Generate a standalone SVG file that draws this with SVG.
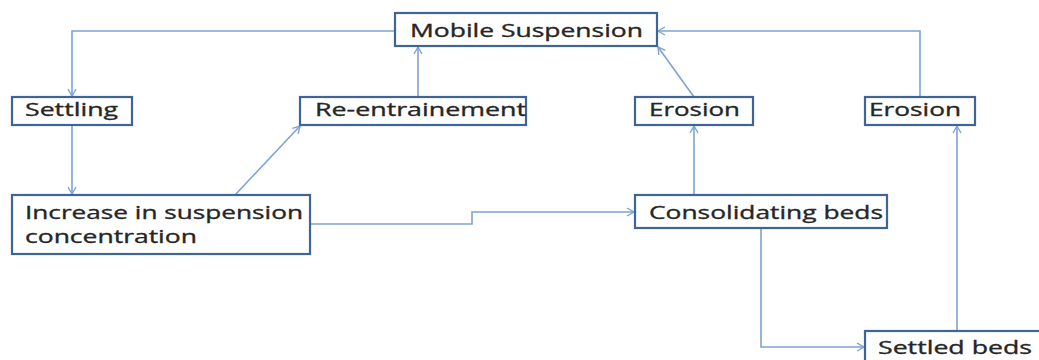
<svg xmlns="http://www.w3.org/2000/svg" width="1039" height="360" viewBox="0 0 1039 360">
<defs>
<marker id="arr" markerWidth="10" markerHeight="10" refX="9" refY="5" orient="auto" markerUnits="userSpaceOnUse">
<polyline points="2,1 9,5 2,9" fill="none" stroke="#7ea3d4" stroke-width="1.4"/>
</marker>
</defs>
<style>
.box{fill:#ffffff;stroke:#3f6597;stroke-width:2.2}
.lbl{font-family:"Open Sans","Liberation Sans",sans-serif;font-size:19px;fill:#262626;stroke:#262626;stroke-width:0.35}
.c{fill:none;stroke:#7ea3d4;stroke-width:1.6;marker-end:url(#arr)}
</style>
<rect width="1039" height="360" fill="#ffffff"/>
<g id="connectors">
<polyline class="c" points="395,31 72,31 72,96"/>
<line class="c" x1="72" y1="125" x2="72" y2="194"/>
<line class="c" x1="235" y1="195" x2="300" y2="126"/>
<line class="c" x1="418" y1="97" x2="418" y2="47"/>
<line class="c" x1="694" y1="97" x2="658" y2="47"/>
<polyline class="c" points="920,97 920,31 658,31"/>
<line class="c" x1="694" y1="195" x2="694" y2="126"/>
<line class="c" x1="957" y1="331" x2="957" y2="126"/>
<polyline class="c" points="310,224 472,224 472,212 634,212"/>
<polyline class="c" points="761,228 761,347 864,347"/>
</g>
<g id="mobile"><rect class="box" x="395" y="13" width="262" height="33"/><text class="lbl" x="410" y="37" textLength="233" lengthAdjust="spacingAndGlyphs">Mobile Suspension</text></g>
<g id="settling"><rect class="box" x="12" y="97" width="120" height="28"/><text class="lbl" x="25" y="116" textLength="93" lengthAdjust="spacingAndGlyphs">Settling</text></g>
<g id="reentrain"><rect class="box" x="300" y="97" width="226" height="28"/><text class="lbl" x="315" y="116" textLength="211" lengthAdjust="spacingAndGlyphs">Re-entrainement</text></g>
<g id="erosion1"><rect class="box" x="635" y="97" width="118" height="28"/><text class="lbl" x="649" y="116" textLength="91" lengthAdjust="spacingAndGlyphs">Erosion</text></g>
<g id="erosion2"><rect class="box" x="865" y="97" width="110" height="28"/><text class="lbl" x="869" y="116" textLength="92" lengthAdjust="spacingAndGlyphs">Erosion</text></g>
<g id="increase"><rect class="box" x="12" y="195" width="298" height="59"/><text class="lbl" x="25" y="219" textLength="278" lengthAdjust="spacingAndGlyphs">Increase in suspension</text><text class="lbl" x="25" y="243" textLength="172" lengthAdjust="spacingAndGlyphs">concentration</text></g>
<g id="consolidating"><rect class="box" x="635" y="195" width="252" height="33"/><text class="lbl" x="649" y="219" textLength="234" lengthAdjust="spacingAndGlyphs">Consolidating beds</text></g>
<g id="settled"><rect class="box" x="865" y="331" width="190" height="40"/><text class="lbl" x="878" y="354" textLength="154" lengthAdjust="spacingAndGlyphs">Settled beds</text></g>
</svg>
